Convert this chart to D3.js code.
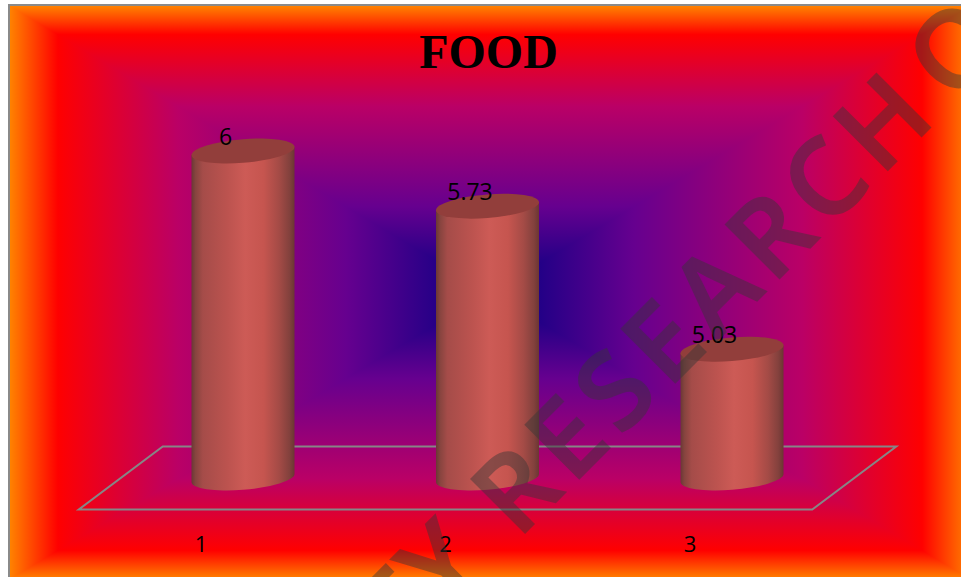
<!DOCTYPE html>
<html><head><meta charset="utf-8">
<style>html,body{margin:0;padding:0;background:#fff;overflow:hidden}svg{display:block}</style>
<script src="https://cdnjs.cloudflare.com/ajax/libs/d3/7.8.5/d3.min.js"></script>
</head><body><div id="chart"></div>
<script>
const categories = ["1", "2", "3"];
const values = [6, 5.73, 5.03];
const labels = ["6", "5.73", "5.03"];
const title = "FOOD";
const watermarkWords = ["T", "Y", "RESEARCH", "O"];
const bgStops = [[0,"#000082"],[0.30,"#66008F"],[0.65,"#BA0066"],[0.90,"#FF0000"],[1,"#FF8200"]];
const barStops = [[0,"#6a3835"],[0.04,"#87443f"],[0.11,"#a54c49"],[0.35,"#bc534f"],[0.52,"#cd5b56"],[0.70,"#c6554f"],[0.85,"#a44b46"],[0.95,"#83413d"],[1,"#6b3633"]];

const W = 961, H = 577;
const svg = d3.select("#chart").append("svg").attr("width", W).attr("height", H);
const defs = svg.append("defs");

const box = {x0:10, y0:6, x1:970, y1:579};
const cx = (box.x0+box.x1)/2, cy = (box.y0+box.y1)/2;

function grad(id, x1, y1, x2, y2, stops){
  const g = defs.append("linearGradient").attr("id", id).attr("gradientUnits","userSpaceOnUse")
    .attr("x1",x1).attr("y1",y1).attr("x2",x2).attr("y2",y2);
  g.selectAll("stop").data(stops).join("stop")
    .attr("offset", d=>d[0]).attr("stop-color", d=>d[1]);
}
grad("bgT", cx, cy, cx, box.y0, bgStops);
grad("bgB", cx, cy, cx, box.y1, bgStops);
grad("bgL", cx, cy, box.x0, cy, bgStops);
grad("bgR", cx, cy, box.x1, cy, bgStops);

const bg = svg.append("g");
bg.append("rect").attr("x",box.x0).attr("y",box.y0).attr("width",box.x1-box.x0).attr("height",cy-box.y0+0.5).attr("fill","url(#bgT)");
bg.append("rect").attr("x",box.x0).attr("y",cy).attr("width",box.x1-box.x0).attr("height",box.y1-cy).attr("fill","url(#bgB)");
const tri = (id, a, b) => bg.append("path").attr("fill",`url(#${id})`).attr("d", d3.line()([a,[cx,cy],b])+"Z");
tri("bgL",[box.x0,box.y0],[box.x0,box.y1]);
tri("bgR",[box.x1,box.y0],[box.x1,box.y1]);
svg.append("rect").attr("x",9).attr("y",5).attr("width",970).attr("height",590)
  .attr("fill","none").attr("stroke","#8a8a8a").attr("stroke-width",2);

const x = d3.scaleBand().domain(categories).range([120.75,854.25]).padding(0);
const y = d3.scaleLinear().domain([4.4,6]).range([478,151]);
const cxOf = c => x(c)+x.bandwidth()/2;

const floorDepth = 42, floorH = 31.5;
const [r0,r1] = x.range();
svg.append("path")
  .attr("d", d3.line()([[r0-floorDepth,y(4.4)+floorH],[r1-floorDepth,y(4.4)+floorH],[r1+floorDepth,y(4.4)-floorH],[r0+floorDepth,y(4.4)-floorH]])+"Z")
  .attr("fill","none").attr("stroke","#868686").attr("stroke-width",2);

const a = 51.5, b = 11.8, k = 4/51.5;
const bg2 = defs.append("linearGradient").attr("id","barG").attr("x1",0).attr("x2",1).attr("y1",0).attr("y2",0);
bg2.selectAll("stop").data(barStops).join("stop").attr("offset",d=>d[0]).attr("stop-color",d=>d[1]);

const rows = categories.map((c,i)=>({c,v:values[i],l:labels[i]}));
const bars = svg.append("g").selectAll("g").data(rows).join("g")
  .attr("transform", d=>`matrix(1,${-k},0,1,${cxOf(d.c)},0)`);
bars.append("path")
  .attr("d", d=>`M${-a},${y(d.v)}L${-a},${y(4.4)}A${a},${b} 0 0 0 ${a},${y(4.4)}L${a},${y(d.v)}Z`)
  .attr("fill","url(#barG)");
bars.append("ellipse").attr("cx",0).attr("cy",d=>y(d.v)).attr("rx",a).attr("ry",b).attr("fill","#923e3b");

const font = "'Open Sans', sans-serif";
svg.append("g").selectAll("text").data(rows).join("text")
  .attr("x", d=>cxOf(d.c)-17.5).attr("y", d=>y(d.v)-6)
  .attr("text-anchor","middle").attr("font-family",font).attr("font-size",23).attr("fill","#000")
  .text(d=>d.l);

const axis = svg.append("g").attr("transform","translate(-42,552)")
  .call(d3.axisBottom(x).tickSize(0).tickPadding(0));
axis.select(".domain").remove();
axis.selectAll("text").attr("y",0).attr("dy",0).attr("font-family",font).attr("font-size",22).attr("fill","#000");

svg.append("text").attr("x",488.5).attr("y",68).attr("text-anchor","middle")
  .attr("font-family","'Liberation Serif', serif").attr("font-weight","bold").attr("font-size",48).attr("fill","#000")
  .text(title);

// Watermark: one translucent group along a -45 degree baseline
const wmAt = [[-109,"end",0],[-104,"start",0],[0,"start",8.5],[615,"start",0]];
svg.append("g").attr("opacity",0.45).attr("transform","translate(518,540) rotate(-45)")
  .selectAll("text").data(watermarkWords).join("text")
  .attr("x",(d,i)=>wmAt[i][0]).attr("y",0).attr("text-anchor",(d,i)=>wmAt[i][1])
  .attr("letter-spacing",(d,i)=>wmAt[i][2])
  .attr("font-family",font).attr("font-weight",600).attr("font-size",107)
  .attr("fill","rgb(55,55,55)").attr("stroke","rgb(55,55,55)").attr("stroke-width",1.5)
  .text(d=>d);
</script></body></html>
